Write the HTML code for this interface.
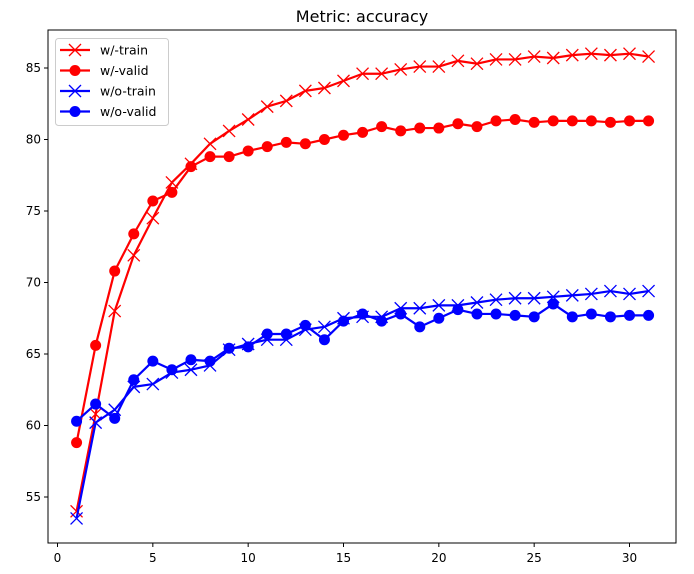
<!DOCTYPE html>
<html><head><meta charset="utf-8"><style>
body{margin:0;background:#fff;font-family:"Liberation Sans","DejaVu Sans",sans-serif}
svg text{font-family:"DejaVu Sans","Liberation Sans",sans-serif}
</style></head><body>
<svg id="chart" width="694" height="569" xmlns="http://www.w3.org/2000/svg"></svg>
<script>
const epochs = [1,2,3,4,5,6,7,8,9,10,11,12,13,14,15,16,17,18,19,20,21,22,23,24,25,26,27,28,29,30,31];
const wTrain = [54.0,60.8,68.0,71.9,74.5,77.0,78.3,79.7,80.6,81.4,82.3,82.7,83.4,83.6,84.1,84.6,84.6,84.9,85.1,85.1,85.5,85.3,85.6,85.6,85.8,85.7,85.9,86.0,85.9,86.0,85.8];
const wValid = [58.8,65.6,70.8,73.4,75.7,76.3,78.1,78.8,78.8,79.2,79.5,79.8,79.7,80.0,80.3,80.5,80.9,80.6,80.8,80.8,81.1,80.9,81.3,81.4,81.2,81.3,81.3,81.3,81.2,81.3,81.3];
const woTrain = [53.5,60.2,61.1,62.7,62.9,63.7,63.9,64.2,65.3,65.7,66.0,66.0,66.7,66.9,67.5,67.6,67.6,68.2,68.2,68.4,68.4,68.6,68.8,68.9,68.9,69.0,69.1,69.2,69.4,69.2,69.4];
const woValid = [60.3,61.5,60.5,63.2,64.5,63.9,64.6,64.5,65.4,65.5,66.4,66.4,67.0,66.0,67.3,67.8,67.3,67.8,66.9,67.5,68.1,67.8,67.8,67.7,67.6,68.5,67.6,67.8,67.6,67.7,67.7];
const xTicks = [0,5,10,15,20,25,30];
const yTicks = [55,60,65,70,75,80,85];

const NS="http://www.w3.org/2000/svg";
const svg=document.getElementById('chart');
const L=48,R=676,T=30,B=543;
const x=v=>57.5+(v-0)*(629.5-57.5)/30;
const y=v=>497-(v-55)*(497-68)/30;
function mk(tag,attrs,parent){const e=document.createElementNS(NS,tag);for(const k in attrs)e.setAttribute(k,attrs[k]);(parent||svg).appendChild(e);return e;}

const title=mk('text',{x:362,y:22,'text-anchor':'middle','font-size':16,fill:'#000'});


title.textContent='Metric: accuracy';

xTicks.forEach(t=>{
  const ln=mk('line',{x1:x(t),x2:x(t),y1:B,y2:B+4,stroke:'#000'});
  
  
  const tx=mk('text',{x:x(t),y:B+19,'text-anchor':'middle','font-size':12});
  
  
  tx.textContent=t;
});
yTicks.forEach(t=>{
  const ln=mk('line',{x1:L-4,x2:L,y1:y(t),y2:y(t),stroke:'#000'});
  
  
  const tx=mk('text',{x:L-7,y:y(t)+4,'text-anchor':'end','font-size':12});
  
  
  tx.textContent=t;
});

function series(vals,color,marker,name){
  const g=mk('g',{});
  
  
  mk('polyline',{points:vals.map((v,i)=>x(epochs[i])+','+y(v)).join(' '),fill:'none',stroke:color,'stroke-width':2.2,'stroke-linejoin':'round'},g);
  vals.forEach((v,i)=>{
    const cx=x(epochs[i]),cy=y(v);
    if(marker==='x'){
      const p=mk('path',{d:`M${cx-6},${cy-6}L${cx+6},${cy+6}M${cx-6},${cy+6}L${cx+6},${cy-6}`,stroke:color,'stroke-width':1.3},g);
      
      
    }else{
      const c=mk('circle',{cx:cx,cy:cy,r:5.5,fill:color},g);
      
      
    }
  });
}
series(wTrain,'#ff0000','x','series-w-train');
series(wValid,'#ff0000','o','series-w-valid');
series(woTrain,'#0000ff','x','series-wo-train');
series(woValid,'#0000ff','o','series-wo-valid');

const frame=mk('rect',{x:L,y:T,width:R-L,height:B-T,fill:'none',stroke:'#000','stroke-width':1});



const lg=mk('g',{});


mk('rect',{x:55.5,y:38.5,width:113,height:87,rx:3,fill:'#fff','fill-opacity':0.8,stroke:'#ccc'},lg);
const items=[['w/-train','#ff0000','x'],['w/-valid','#ff0000','o'],['w/o-train','#0000ff','x'],['w/o-valid','#0000ff','o']];
items.forEach((it,i)=>{
  const cy=50+i*20.5;
  const e=mk('g',{},lg);
  
  
  mk('line',{x1:60,x2:90,y1:cy,y2:cy,stroke:it[1],'stroke-width':2.2},e);
  if(it[2]==='x') mk('path',{d:`M${69},${cy-6}L${81},${cy+6}M${69},${cy+6}L${81},${cy-6}`,stroke:it[1],'stroke-width':1.3},e);
  else mk('circle',{cx:75,cy:cy,r:5.5,fill:it[1]},e);
  const t=mk('text',{x:100,y:cy+4.5,'font-size':12.5},e);
  t.textContent=it[0];
});
</script>
</body></html>
